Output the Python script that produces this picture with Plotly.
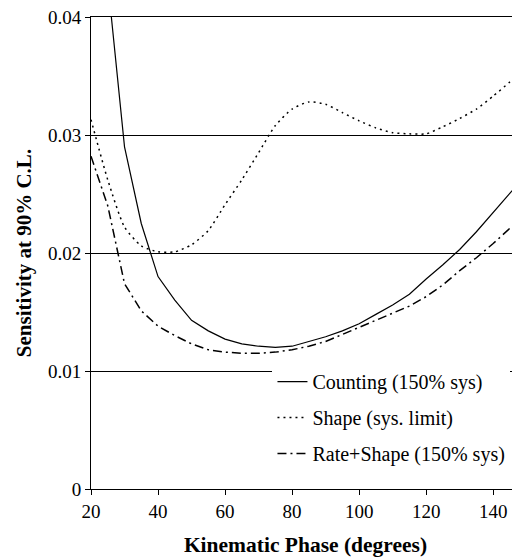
import plotly.graph_objects as go

phase = [20, 25, 30, 35, 40, 45, 50, 55, 60, 65, 70, 75, 80, 85, 90, 95, 100,
         105, 110, 115, 120, 125, 130, 135, 140, 145, 150]

counting = [0.065, 0.043, 0.0290, 0.0225, 0.0180, 0.0160, 0.0143, 0.0134, 0.0127,
            0.0123, 0.0121, 0.0120, 0.0121, 0.0125, 0.0129, 0.0134, 0.0140,
            0.0148, 0.0156, 0.0165, 0.0178, 0.0190, 0.0203, 0.0218, 0.0234,
            0.0250, 0.0267]

shape = [0.0313, 0.0262, 0.0222, 0.0206, 0.0201, 0.0201, 0.0207, 0.0219, 0.0241,
         0.0262, 0.0285, 0.0308, 0.0322, 0.0328, 0.0326, 0.0319, 0.0312,
         0.0306, 0.0302, 0.0301, 0.0301, 0.0307, 0.0314, 0.0322, 0.0333,
         0.0345, 0.0358]

rate_shape = [0.0282, 0.0240, 0.0174, 0.0151, 0.0138, 0.0130, 0.0123, 0.0118,
              0.0116, 0.0115, 0.0115, 0.0116, 0.0118, 0.0121, 0.0125, 0.0131,
              0.0137, 0.0143, 0.0149, 0.0155, 0.0163, 0.0173, 0.0185, 0.0196,
              0.0208, 0.0221, 0.0235]

names = ["Counting (150% sys)", "Shape (sys. limit)", "Rate+Shape (150% sys)"]
y_ticks = [0, 0.01, 0.02, 0.03, 0.04]
y_labels = ["0", "0.01", "0.02", "0.03", "0.04"]
x_ticks = [20, 40, 60, 80, 100, 120, 140]

FONT = "Liberation Serif"

fig = go.Figure()
fig.add_trace(go.Scatter(x=phase, y=counting, name=names[0], mode="lines",
                         legendgroup="a",
                         line=dict(color="black", width=1.2)))
fig.add_trace(go.Scatter(x=phase, y=shape, name=names[1], mode="lines",
                         legendgroup="b",
                         line=dict(color="black", width=1.5, dash="2px,4px",
                                   shape="spline", smoothing=0.6)))
fig.add_trace(go.Scatter(x=phase, y=rate_shape, name=names[2], mode="lines",
                         legendgroup="c",
                         line=dict(color="black", width=1.5, dash="9px,4px,2px,4px")))

fig.update_layout(
    width=520, height=557,
    margin=dict(l=83, r=8, t=9, b=76, autoexpand=False),
    paper_bgcolor="white", plot_bgcolor="white",
    font=dict(family=FONT, size=19, color="black"),
    showlegend=True,
    legend=dict(x=0.423, y=0.269, xanchor="left", yanchor="top",
                bgcolor="white", borderwidth=0,
                font=dict(family=FONT, size=20, color="black"),
                tracegroupgap=7, itemwidth=30),
    xaxis=dict(range=[20, 148], tickvals=x_ticks, showgrid=False,
               showline=True, linecolor="black", linewidth=1, mirror=True,
               ticks="outside", ticklen=5, tickcolor="black",
               tickfont=dict(family=FONT, size=19), zeroline=False,
               automargin=False, ticklabeloverflow="allow",
               title=dict(text="<b>Kinematic Phase (degrees)</b>",
                          font=dict(family=FONT, size=21.5), standoff=16)),
    yaxis=dict(range=[0, 0.04], tickvals=y_ticks, ticktext=y_labels,
               showgrid=True, gridcolor="black", gridwidth=1,
               showline=True, linecolor="black", linewidth=1,
               ticks="outside", ticklen=5, tickcolor="black",
               tickfont=dict(family=FONT, size=19), zeroline=False,
               automargin=False, ticklabeloverflow="allow",
               title=dict(text="<b>Sensitivity at 90% C.L.</b>",
                          font=dict(family=FONT, size=21), standoff=10)),
)

fig.write_html("out.html")
